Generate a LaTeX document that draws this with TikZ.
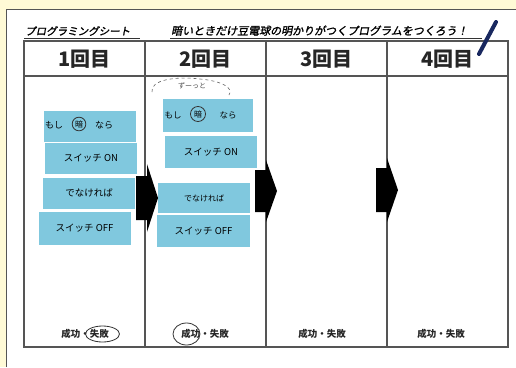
\documentclass[tikz,border=0pt]{standalone}
\usepackage{fontspec}
\newfontfamily\jp{Noto Sans CJK JP}
\newfontfamily\jpsl{Noto Sans CJK JP}[FakeSlant=0.2,FakeBold=1.5]
\definecolor{cream}{RGB}{255,250,214}
\definecolor{sticky}{RGB}{128,200,222}
\definecolor{framec}{RGB}{85,85,85}
\definecolor{penc}{RGB}{25,40,95}
\begin{document}
\begin{tikzpicture}[x=1pt,y=-1pt,
  tbl/.style={draw=framec, line width=1.2pt},
  note/.style={fill=sticky, minimum width=92pt, minimum height=31pt, inner sep=0pt, font=\jp\fontsize{9.5}{10}\selectfont},
  hdr/.style={font=\jp\bfseries\fontsize{20}{20}\selectfont, text=black!85},
  res/.style={font=\jp\bfseries\fontsize{9.5}{10}\selectfont, text=black!85},
  ring/.style={draw=black!80, line width=0.8pt},
  bigarrow/.style={fill=black}]
\useasboundingbox (0,0) rectangle (516,367);
\fill[cream] (0,0) rectangle (516,367);
\fill[white] (6,9) rectangle (516,367);
\draw[framec, line width=1pt] (6,367) -- (6,9) -- (516,9);

% titles
\node[anchor=south west, inner sep=0pt, font=\jpsl\fontsize{10.5}{11}\selectfont] (t1) at (25,36) {プログラミングシート};
\draw[black!80, line width=0.8pt] (24,38) -- (140,38);
\node[anchor=south west, inner sep=0pt, font=\jpsl\fontsize{11}{11}\selectfont] (t2) at (171,36) {暗いときだけ豆電球の明かりがつくプログラムをつくろう！};
\draw[black!80, line width=0.8pt] (170,38) -- (482,38);

% table
\draw[tbl] (24,41) rectangle (508,347);
\draw[tbl] (24,76) -- (508,76);
\foreach \x in {145,266,387} \draw[tbl] (\x,41) -- (\x,347);

% headers
\node[hdr] (h1) at (84.5,59) {1回目};
\node[hdr] (h2) at (205.5,59) {2回目};
\node[hdr] (h3) at (326.5,59) {3回目};
\node[hdr] (h4) at (447.5,59) {4回目};

% column 1 notes
\node[note] (n11) at (90,126) {};
\node[note] (n12) at (91,158.5) {スイッチ ON};
\node[note] (n13) at (89,193) {でなければ};
\node[note, minimum height=33pt] (n14) at (84.5,228.5) {スイッチ OFF};
\node[font=\jp\fontsize{9}{9}\selectfont] (m11) at (54,125) {もし};
\node[font=\jp\fontsize{8}{8}\selectfont, circle, ring, inner sep=1pt] (c11) at (79,124) {暗};
\node[font=\jp\fontsize{9}{9}\selectfont] (d11) at (104,125) {なら};

% column 2 notes
\node[note, minimum width=90pt, minimum height=33pt] (n21) at (208,115) {};
\node[note, minimum height=32pt] (n22) at (211,152) {スイッチ ON};
\node[note, minimum height=30pt, font=\jp\fontsize{8}{8}\selectfont] (n23) at (204,198) {でなければ};
\node[note, minimum width=93pt, minimum height=32pt] (n24) at (203.5,231) {スイッチ OFF};
\node[font=\jp\fontsize{8.5}{9}\selectfont] (m21) at (173,115) {もし};
\node[font=\jp\fontsize{8}{8}\selectfont, circle, ring, inner sep=1.5pt] (c21) at (198,114) {暗};
\node[font=\jp\fontsize{8.5}{9}\selectfont] (d21) at (228,115) {なら};

% handwritten remark above column 2
\draw[black!60, dashed, line width=0.6pt] (152,92) .. controls (150,80) and (175,76) .. (200,79) .. controls (222,81) and (234,88) .. (229,95);
\node[font=\jp\fontsize{7}{7}\selectfont, text=black!70] (z2) at (192,86) {ずーっと};

% big arrows
\fill[bigarrow] (136,176) -- (147,176) -- (147,164) -- (158,198) -- (147,232) -- (147,220) -- (136,220) -- cycle;
\fill[bigarrow] (255,170) -- (266,170) -- (266,160) -- (277,191) -- (266,222) -- (266,212) -- (255,212) -- cycle;
\fill[bigarrow] (376,168) -- (387,168) -- (387,158) -- (398,190) -- (387,222) -- (387,212) -- (376,212) -- cycle;

% results
\node[res] (r1) at (85,334) {成功・失敗};
\node[res] (r2) at (205,334) {成功・失敗};
\node[res] (r3) at (322,334) {成功・失敗};
\node[res] (r4) at (441,334) {成功・失敗};
\draw[ring] (102.5,334) ellipse [x radius=17, y radius=8];
\draw[ring] (186.5,334) ellipse [x radius=13.5, y radius=11];

% pen stroke
\draw[penc, line width=4pt, line cap=round] (496,22) -- (479,54);
\end{tikzpicture}
\end{document}
